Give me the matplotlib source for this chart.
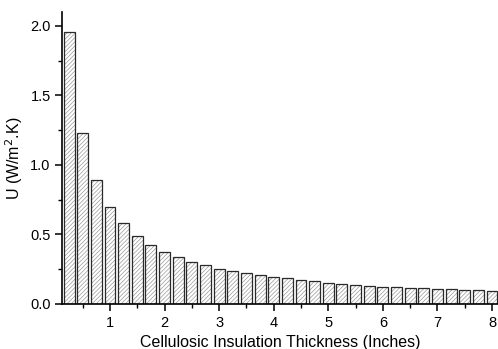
import numpy as np
import matplotlib
matplotlib.use("Agg")
import matplotlib.pyplot as plt
from matplotlib.ticker import MultipleLocator, FormatStrFormatter

plt.rcParams["font.family"] = ["Liberation Sans", "DejaVu Sans"]
plt.rcParams["hatch.linewidth"] = 0.5

# thickness (inches) and U-value (W/m2.K)
thickness = [0.25, 0.5, 0.75, 1.0, 1.25, 1.5, 1.75, 2.0, 2.25, 2.5, 2.75, 3.0,
             3.25, 3.5, 3.75, 4.0, 4.25, 4.5, 4.75, 5.0, 5.25, 5.5, 5.75, 6.0,
             6.25, 6.5, 6.75, 7.0, 7.25, 7.5, 7.75, 8.0]
u_value = [1.952, 1.228, 0.890, 0.698, 0.580, 0.489, 0.427, 0.374, 0.336, 0.305,
           0.278, 0.254, 0.235, 0.221, 0.206, 0.192, 0.185, 0.173, 0.163, 0.153,
           0.146, 0.139, 0.132, 0.125, 0.120, 0.117, 0.113, 0.110, 0.106, 0.103,
           0.099, 0.094]

fig = plt.figure(figsize=(4.98, 3.49), dpi=100)
ax = fig.add_axes([0.1255, 0.129, 0.8745, 0.837])

# hatch layer (grey) then dark outline on top
ax.bar(thickness, u_value, width=0.2, color="white", edgecolor="#9a9a9a",
       hatch="////////", linewidth=0)
ax.bar(thickness, u_value, width=0.2, fill=False, edgecolor="#2a2a2a", linewidth=0.9)

ax.set_xlim(0.13, 8.11)
ax.set_ylim(0, 2.1)
ax.set_xticks(range(1, 9))
ax.xaxis.set_minor_locator(MultipleLocator(0.5))
ax.yaxis.set_major_locator(MultipleLocator(0.5))
ax.yaxis.set_minor_locator(MultipleLocator(0.25))
ax.yaxis.set_major_formatter(FormatStrFormatter("%.1f"))

for s in ["top", "right"]:
    ax.spines[s].set_visible(False)
for s in ["left", "bottom"]:
    ax.spines[s].set_linewidth(1.2)
ax.tick_params(which="major", length=5, width=1.1, labelsize=10.5, direction="out")
ax.tick_params(which="minor", length=3, width=1.0, direction="out")

ax.set_xlabel("Cellulosic Insulation Thickness (Inches)", fontsize=11.5, labelpad=4)
ax.set_ylabel("U (W/m$^2$.K)", fontsize=11.5, labelpad=4)

fig.savefig("out.png", dpi=100)
